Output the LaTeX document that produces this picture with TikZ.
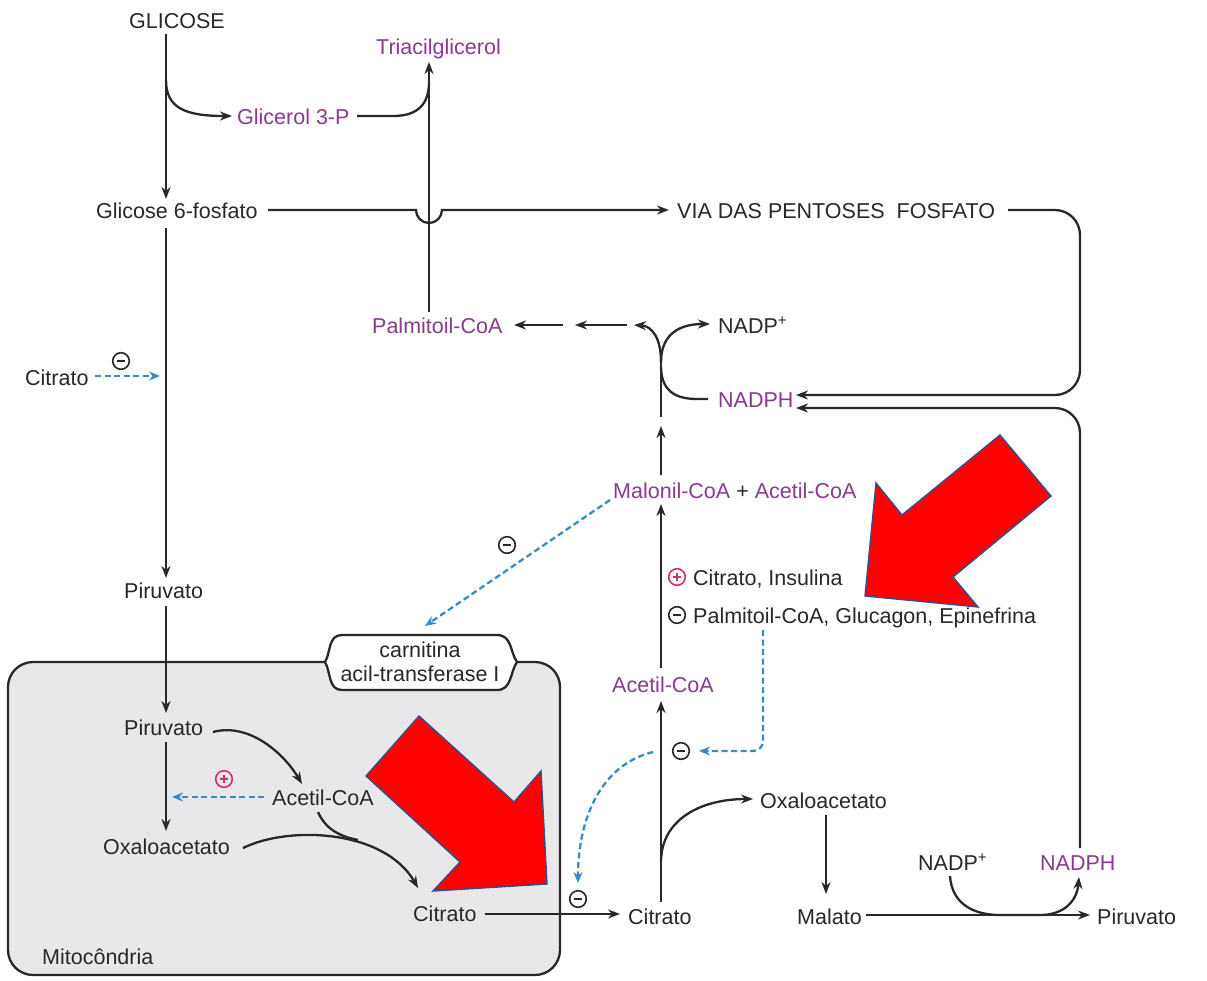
\documentclass[tikz,border=0pt]{standalone}
\usepackage{fontspec}
\setmainfont{Liberation Sans}
\usetikzlibrary{arrows.meta,calc}
\definecolor{ink}{RGB}{40,40,40}
\definecolor{purp}{RGB}{135,60,140}
\definecolor{dblue}{RGB}{55,140,195}
\definecolor{pinkc}{RGB}{205,50,110}
\definecolor{mitofill}{RGB}{232,232,235}
\definecolor{edgeblue}{RGB}{47,82,143}
\tikzset{
  minuscirc/.pic={\draw[ink, line width=1.6pt] (0,0) circle (8.3); \draw[ink, line width=1.8pt] (-3.8,0) -- (3.8,0);},
  pluscirc/.pic={\draw[pinkc, line width=1.6pt] (0,0) circle (8.3); \draw[pinkc, line width=1.4pt] (-3.8,0) -- (3.8,0) (0,-3.8) -- (0,3.8);}
}
\begin{document}
\begin{tikzpicture}[x=1pt,y=-1pt,
  every node/.style={font=\fontsize{21.5}{25}\selectfont, text=ink, inner sep=0pt},
  lbl/.style={anchor=base west},
  pl/.style={text=purp},
  ln/.style={draw=ink, line width=2.3pt},
  arr/.style={ln, -{Stealth[length=12pt,width=9pt]}},
  dasharr/.style={draw=dblue, line width=2.3pt, dash pattern=on 6pt off 3.5pt, -{Stealth[length=11pt,width=9pt]}},
  redarrow/.style={fill=red, draw=edgeblue, line width=1.4pt, line join=miter}
]
\useasboundingbox (0,0) rectangle (1207,980);
\fill[white] (0,0) rectangle (1207,980);

% mitochondria
\draw[ln, fill=mitofill, rounded corners=25] (8,662) rectangle (560,975);
\draw[ln, fill=white] (342,635) -- (497,635) .. controls (512,635) and (510,652) .. (517,662)
   .. controls (510,672) and (512,690) .. (497,690) -- (342,690)
   .. controls (328,690) and (331,672) .. (325,662) .. controls (331,652) and (328,635) .. (342,635);
\node (carn1) at (420,657) [anchor=base] {carnitina};
\node (carn2) at (420,681) [anchor=base] {acil-transferase I};
\node[lbl] (mito) at (42,964) {Mitocôndria};

% text nodes
\node[lbl] (glic) at (129,28) {GLICOSE};
\node[lbl,pl] (tag) at (376,54) {Triacilglicerol};
\node[lbl,pl] (g3p) at (237,124) {Glicerol 3-P};
\node[lbl] (g6p) at (96,218) {Glicose 6-fosfato};
\node[lbl] (via) at (677,218) {VIA DAS PENTOSES\ \ FOSFATO};
\node[lbl,pl] (palm) at (372,333) {Palmitoil-CoA};
\node[lbl] (nadpA) at (718,333) {NADP\textsuperscript{+}};
\node[lbl,pl] (nadphA) at (718,407) {NADPH};
\node[lbl] (citL) at (25,385) {Citrato};
\node[lbl] (malo) at (613,498) {\textcolor{purp}{Malonil-CoA} + \textcolor{purp}{Acetil-CoA}};
\node[lbl] (act) at (693,585) {Citrato, Insulina};
\node[lbl] (inh) at (693,623) {Palmitoil-CoA, Glucagon, Epinefrina};
\node[lbl] (piruA) at (124,598) {Piruvato};
\node[lbl] (piruB) at (124,735) {Piruvato};
\node[lbl] (acB) at (272,805) {Acetil-CoA};
\node[lbl] (oxB) at (103,854) {Oxaloacetato};
\node[lbl] (citB) at (413,921) {Citrato};
\node[lbl,pl] (acC) at (612,692) {Acetil-CoA};
\node[lbl] (oxC) at (760,808) {Oxaloacetato};
\node[lbl] (citC) at (628,924) {Citrato};
\node[lbl] (mal) at (797,924) {Malato};
\node[lbl] (piruC) at (1097,924) {Piruvato};
\node[lbl] (nadpB) at (918,870) {NADP\textsuperscript{+}};
\node[lbl,pl] (nadphB) at (1040,870) {NADPH};

% upper connectors
\draw[arr] (166,34) -- (166,199);
\draw[arr] (166,80) .. controls (166,108) and (185,116) .. (232,116);
\draw[ln] (357,116) -- (393,116) .. controls (418,116) and (429,104) .. (429,82);
\draw[arr] (429,312) -- (429,62);
\draw[arr] (268,210) -- (416,210) arc (180:0:13) -- (669,210);
\draw[arr, rounded corners=25] (1008,210) -- (1080,210) -- (1080,395) -- (796,395);
\draw[arr, rounded corners=25] (1080,848) -- (1080,408) -- (796,408);
\draw[arr] (166,228) -- (166,578);
\draw[dasharr] (95,376) -- (160,376);
\pic at (121,361) {minuscirc};

% fork
\draw[arr] (661,475) -- (661,426);
\draw[ln] (661,417) -- (661,355);
\draw[arr] (661,362) .. controls (661,338) and (652,326) .. (634,325);
\draw[arr] (661,362) .. controls (661,338) and (675,324) .. (710,324);
\draw[ln] (708,399) -- (697,399) .. controls (672,399) and (661,388) .. (661,366);
\draw[arr] (563,325) -- (514,325);
\draw[arr] (627,325) -- (575,325);

% middle
\draw[arr] (661,668) -- (661,504);
\draw[dasharr] (610,500) -- (425,626);
\pic at (507,545) {minuscirc};
\pic at (677,577) {pluscirc};
\pic at (677,615) {minuscirc};
\draw[dasharr, rounded corners=10] (763,630) -- (763,751) -- (699,751);
\pic at (681,751) {minuscirc};

% mitochondria inside
\draw[arr] (166,606) -- (166,713);
\draw[arr] (166,742) -- (166,831);
\draw[arr] (213,732) .. controls (250,722) and (285,755) .. (302,784);
\draw[dasharr] (264,797) -- (172,797);
\pic at (224,779) {pluscirc};
\draw[arr] (243,848) .. controls (290,825) and (385,830) .. (418,888);
\draw[ln] (318,812) .. controls (325,828) and (338,836) .. (358,840);
\draw[arr] (485,914) -- (620,914);

% lower right
\draw[dasharr] (653,752) .. controls (600,765) and (578,820) .. (578,883);
\pic at (578,899) {minuscirc};
\draw[arr] (661,902) -- (661,701);
\draw[arr] (661,862) .. controls (661,820) and (700,799) .. (753,799);
\draw[arr] (826,815) -- (826,894);
\draw[arr] (866,915) -- (1090,915);
\draw[arr] (950,876) .. controls (952,905) and (975,915) .. (1000,915) -- (1040,915) .. controls (1065,915) and (1077,900) .. (1079,877);

% red arrows
\draw[redarrow] (865,596) -- (876,483) -- (902,515) -- (1000,435) -- (1051,496) -- (953,577) -- (978,607) -- cycle;
\draw[redarrow] (547,884) -- (433,891) -- (460,862) -- (366,776) -- (419,716) -- (514,802) -- (541,771) -- cycle;
\end{tikzpicture}
\end{document}
